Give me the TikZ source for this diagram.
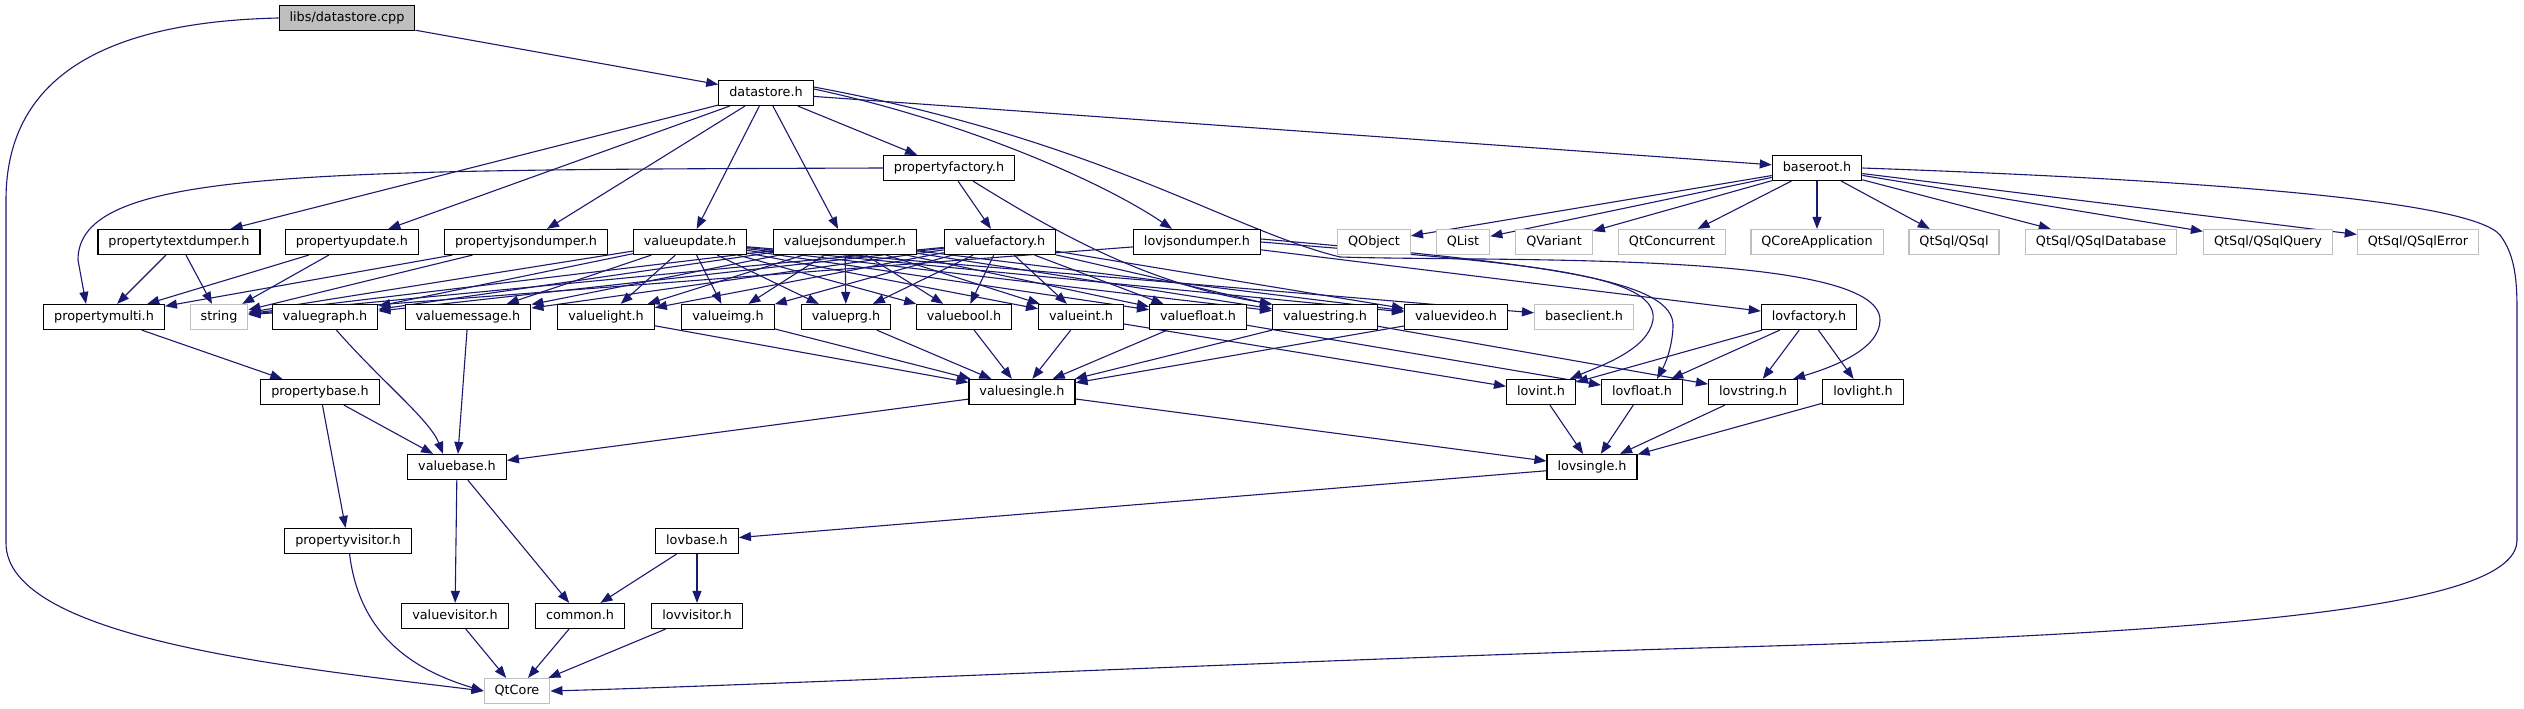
\documentclass[tikz,border=0pt]{standalone}
\usepackage{fontspec}
\setmainfont{DejaVu Sans}
\usepackage{xcolor}
\usepackage{tikz}
\usetikzlibrary{arrows.meta, backgrounds}

\definecolor{navy}{HTML}{191970}
\definecolor{grey75}{HTML}{BFBFBF}

\begin{document}
\begin{tikzpicture}[x=1pt, y=-1pt,
          every node/.style={draw=black, line width=1.2pt, fill=white,
            font=\fontsize{12.8}{14}\selectfont, inner xsep=10.5pt, inner ysep=0pt,
            minimum height=25pt, text height=9.6pt, text depth=2.7pt},
          ext/.style={draw=grey75},
          cur/.style={fill=grey75},
          inc/.style={draw=navy, line width=1.1pt, -{Triangle[length=12pt,width=9pt]}}]
          \useasboundingbox (0,0) rectangle (2524,709);

          % row 0 - 2
          \node[cur] (dsc) at (347,18) {libs/datastore.cpp};
          \node (ds) at (766,93) {datastore.h};
          \node (pfac) at (949,168) {propertyfactory.h};
          \node (broot) at (1817,168) {baseroot.h};

          % row 3
          \node (ptd) at (179,242) {propertytextdumper.h};
          \node (pupd) at (352,242) {propertyupdate.h};
          \node (pjd) at (526,242) {propertyjsondumper.h};
          \node (vupd) at (690,242) {valueupdate.h};
          \node (vjd) at (845,242) {valuejsondumper.h};
          \node (vfac) at (1000,242) {valuefactory.h};
          \node (ljd) at (1197,242) {lovjsondumper.h};
          \node[ext] (qobj) at (1374,242) {QObject};
          \node[ext] (qlist) at (1463,242) {QList};
          \node[ext] (qvar) at (1554,242) {QVariant};
          \node[ext] (qconc) at (1672,242) {QtConcurrent};
          \node[ext] (qcore) at (1817,242) {QCoreApplication};
          \node[ext] (qsql) at (1954,242) {QtSql/QSql};
          \node[ext] (qsqldb) at (2101,242) {QtSql/QSqlDatabase};
          \node[ext] (qsqlq) at (2268,242) {QtSql/QSqlQuery};
          \node[ext] (qsqle) at (2418,242) {QtSql/QSqlError};

          % row 4
          \node (pmulti) at (104,317) {propertymulti.h};
          \node[ext] (string) at (219,317) {string};
          \node (vgraph) at (325,317) {valuegraph.h};
          \node (vmsg) at (468,317) {valuemessage.h};
          \node (vlight) at (606,317) {valuelight.h};
          \node (vimg) at (728,317) {valueimg.h};
          \node (vprg) at (846,317) {valueprg.h};
          \node (vbool) at (964,317) {valuebool.h};
          \node (vint) at (1081,317) {valueint.h};
          \node (vfloat) at (1198,317) {valuefloat.h};
          \node (vstr) at (1325,317) {valuestring.h};
          \node (vvideo) at (1456,317) {valuevideo.h};
          \node[ext] (bclient) at (1584,317) {baseclient.h};
          \node (lfac) at (1809,317) {lovfactory.h};

          % row 5 - 9
          \node (pbase) at (320,392) {propertybase.h};
          \node (vsingle) at (1022,392) {valuesingle.h};
          \node (lint) at (1541,392) {lovint.h};
          \node (lfloat) at (1642,392) {lovfloat.h};
          \node (lstr) at (1753,392) {lovstring.h};
          \node (llight) at (1863,392) {lovlight.h};
          \node (vbase) at (457,467) {valuebase.h};
          \node (lsingle) at (1592,467) {lovsingle.h};
          \node (pvis) at (348,541) {propertyvisitor.h};
          \node (lbase) at (697,541) {lovbase.h};
          \node (vvis) at (455,616) {valuevisitor.h};
          \node (common) at (580,616) {common.h};
          \node (lvis) at (697,616) {lovvisitor.h};
          \node[ext] (qtcore) at (517,691) {QtCore};

          \begin{scope}[on background layer]
          \draw[inc] (dsc) -- (ds);
          \draw[inc] (dsc.west) .. controls (100,22) and (6,80) .. (6,200) -- (6,543)
            .. controls (6,640) and (300,668) .. (qtcore.west);

          \foreach \t in {ptd,pupd,pjd,vupd,vjd,pfac,broot}
            \draw[inc] (ds) -- (\t);
          \draw[inc] ([yshift=4pt]ds.east) .. controls (960,120) and (1100,180) .. ([xshift=-25pt]ljd.north);
          \draw[inc] ([yshift=6pt]ds.east) .. controls (1100,140) and (1230,230) .. (1340,257)
            .. controls (1500,262) and (1880,250) .. (1880,320)
            .. controls (1880,350) and (1830,368) .. ([xshift=-5pt]lstr.north east);

          \draw[inc] (pfac.west) .. controls (300,170) and (78,170) .. (78,260) -- ([xshift=-18pt]pmulti.north);
          \draw[inc] (pfac) -- (vfac);
          \draw[inc] ([xshift=24pt]pfac.south) .. controls (1060,235) and (1150,285) .. (vstr.north west);

          \draw[inc] (ptd) -- (pmulti);
          \draw[inc] (ptd) -- (string);
          \draw[inc] (pupd) -- (pmulti);
          \draw[inc] (pupd) -- (string);
          \draw[inc] (pjd) -- (pmulti);
          \draw[inc] (pjd) -- (string);

          \foreach \s in {vupd,vjd,vfac}
            \foreach \t in {string,vgraph,vmsg,vlight,vimg,vprg,vbool,vint,vfloat,vstr,vvideo}
              \draw[inc] (\s) -- (\t);
          \draw[inc] (vupd) -- (bclient);

          \draw[inc] (ljd) -- (string);
          \draw[inc] (ljd) -- (lfac);
          \draw[inc] (ljd.east) .. controls (1500,262) and (1660,270) .. (1653,320)
            .. controls (1648,350) and (1600,366) .. ([xshift=-6pt]lint.north east);
          \draw[inc] ([yshift=3pt]ljd.east) .. controls (1550,264) and (1676,280) .. (1673,327)
            .. controls (1672,350) and (1664,366) .. ([xshift=15pt]lfloat.north);

          \foreach \t in {qobj,qlist,qvar,qconc,qcore,qsql,qsqldb,qsqlq,qsqle}
            \draw[inc] (broot) -- (\t);
          \draw[inc] (broot.east) .. controls (2200,180) and (2470,200) .. (2500,235)
            .. controls (2515,255) and (2517,280) .. (2517,310) -- (2517,540)
            .. controls (2517,600) and (2300,632) .. (1700,648)
            .. controls (1300,660) and (800,684) .. (qtcore.east);

          \draw[inc] (pmulti) -- (pbase);
          \draw[inc] (vgraph) .. controls (380,380) and (430,420) .. ([xshift=-14pt]vbase.north);
          \draw[inc] (vmsg) -- (vbase);
          \foreach \s in {vlight,vimg,vprg,vbool,vint,vfloat,vstr,vvideo}
            \draw[inc] (\s) -- (vsingle);
          \draw[inc] (vint) -- (lint);
          \draw[inc] (vfloat) -- (lfloat);
          \draw[inc] (vstr) -- (lstr);
          \foreach \t in {lint,lfloat,lstr,llight}
            \draw[inc] (lfac) -- (\t);

          \draw[inc] (pbase) -- (vbase);
          \draw[inc] (pbase) -- (pvis);
          \draw[inc] (vsingle) -- (vbase);
          \draw[inc] (vsingle) -- (lsingle);
          \foreach \s in {lint,lfloat,lstr,llight}
            \draw[inc] (\s) -- (lsingle);
          \draw[inc] (lsingle) -- (lbase);

          \draw[inc] (vbase) -- (vvis);
          \draw[inc] (vbase) -- (common);
          \draw[inc] (lbase) -- (common);
          \draw[inc] (lbase) -- (lvis);
          \draw[inc] (pvis) .. controls (360,640) and (420,672) .. (qtcore.west);
          \draw[inc] (vvis) -- (qtcore);
          \draw[inc] (common) -- (qtcore);
          \draw[inc] (lvis) -- (qtcore);
          \end{scope}
        \end{tikzpicture}
\end{document}
